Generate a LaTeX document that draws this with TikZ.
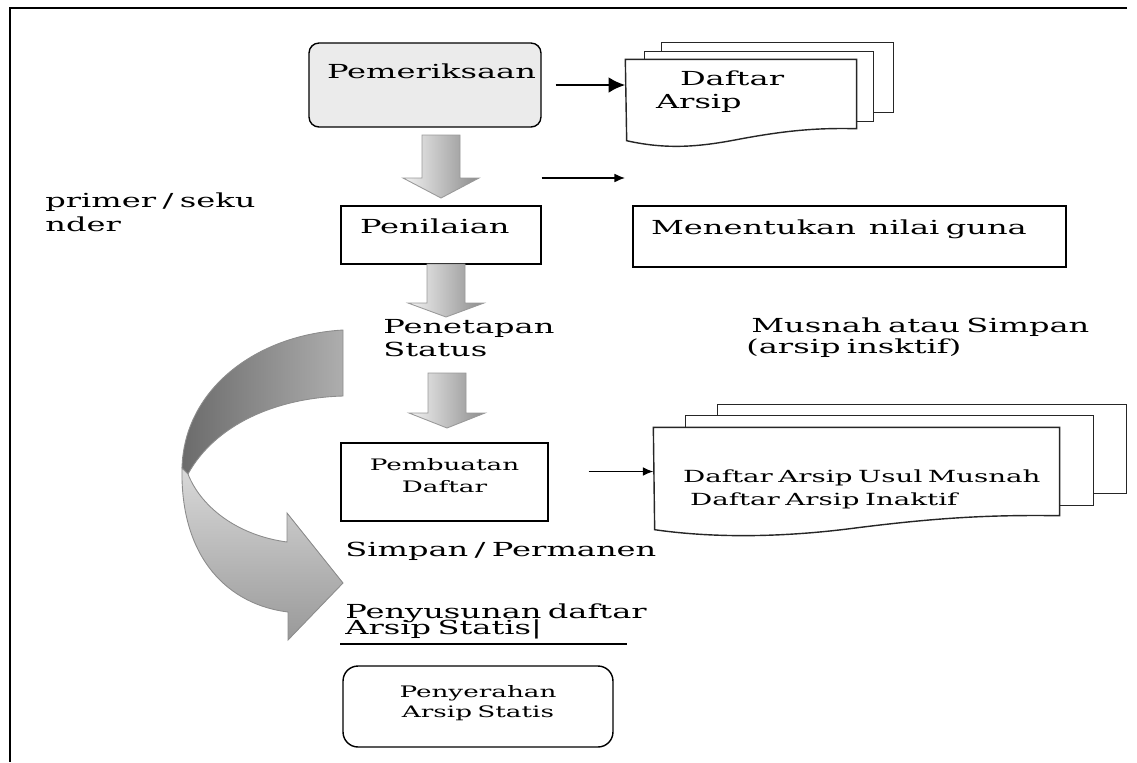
\documentclass[tikz,border=0pt]{standalone}
\usepackage{fontspec}
\setmainfont{DejaVu Serif}[FakeStretch=1.66]
\usetikzlibrary{arrows.meta,calc,backgrounds}

\begin{document}
\begin{tikzpicture}[x=0.02cm, y=-0.02cm, >={Latex[length=6pt,width=5pt]}, font=\fontsize{11}{13.6}\selectfont,
  procbox/.style={draw, line width=0.8pt, inner sep=0pt, align=left},
  roundbox/.style={procbox, rounded corners=0.2cm},
  docsheet/.style={draw=black!85, line width=0.8pt, fill=white},
  blockarrow/.style={left color=black!5, right color=black!45, draw=black!40, line width=0.5pt},
  plaintext/.style={inner sep=0pt, anchor=base west, align=left, text width=8cm},
  smalltext/.style={font=\fontsize{9}{13}\selectfont}]
\useasboundingbox (0,0) rectangle (1137,762);
\draw[line width=1.4pt] (1127,8) -- (10,8) -- (10,762);

% boxes
\node[roundbox, fill=black!8, text width=3.92cm, inner xsep=0.36cm, text height=0.70cm, text depth=0.98cm] (pem) at (425,85) {Pemeriksaan};
\node[procbox, text width=3.24cm, inner xsep=0.38cm, text height=0.54cm, text depth=0.62cm] (pen) at (441,235) {Penilaian};
\node[procbox, text width=7.94cm, inner xsep=0.36cm, text height=0.56cm, text depth=0.66cm] (nilai) at (849.5,236.5) {Menentukan~ nilai guna};
\node[procbox, draw=none, text width=3.4cm, inner xsep=0.6cm, text height=0.5cm, text depth=0.86cm] (daf) at (741,94) {\hspace*{0.48cm}Daftar\\Arsip};
\node[procbox, draw=none, font=\fontsize{9.5}{13.6}\selectfont, text width=7.7cm, inner xsep=0.2cm, text height=1.08cm, text depth=0.66cm] (usul) at (856.5,471.5) {\hspace*{0.38cm}Daftar Arsip Usul Musnah\\\hspace*{0.52cm}Daftar Arsip Inaktif};
\node[procbox, smalltext, align=center, text width=3.94cm, inner xsep=0.1cm, text height=0.54cm, text depth=1.02cm] (pemb) at (444.5,482) {Pembuatan\\Daftar};
\node[roundbox, rounded corners=0.3cm, font=\fontsize{9}{11.9}\selectfont, align=center, text width=5.2cm, inner xsep=0.1cm, text height=0.62cm, text depth=1.0cm] (pser) at (478,706.5) {Penyerahan\\Arsip Statis};

% loose texts
\node[plaintext, font=\fontsize{11}{14.2}\selectfont] (prim) at (45,207) {primer / seku\\nder};
\node[plaintext] (pst) at (383,333) {Penetapan\\Status};
\node[plaintext, font=\fontsize{11}{12.5}\selectfont] (mus) at (751,332) {Musnah atau Simpan\\\hspace*{-0.1cm}(arsip insktif)};
\node[plaintext] (simp) at (345,556) {Simpan / Permanen};
\node[plaintext, font={\fontsize{11}{9.6}\selectfont\lineskiplimit=-\maxdimen}] (pys) at (345,618) {Penyusunan daftar\\Arsip Statis|};
\draw[line width=0.8pt] (340,644) -- (627,644);

% document stacks
\begin{scope}[on background layer]
  \draw[docsheet] ($(daf.north west)+(36,-17)$) rectangle ($(daf.south east)+(37,-16)$);
  \draw[docsheet] ($(daf.north west)+(19,-8)$) rectangle ($(daf.south east)+(17,-7)$);
  \draw[docsheet] (daf.north west) -- (daf.north east) -- (daf.south east) .. controls +(-41,-1) and +(44,-8) .. ++(-115,10) .. controls +(-36,7) and +(44,10) .. ++(-115,2) -- cycle;
  \draw[docsheet] ($(usul.north west)+(64,-23)$) rectangle ($(usul.south east)+(67,-22)$);
  \draw[docsheet] ($(usul.north west)+(32,-12)$) rectangle ($(usul.south east)+(34,-10)$);
  \draw[docsheet] (usul.north west) -- (usul.north east) -- (usul.south east) .. controls +(-70,-1) and +(80,-10) .. ++(-202,12) .. controls +(-60,8) and +(70,10) .. ++(-203,2) -- cycle;
\end{scope}

% block arrows
\foreach \cx/\ytop/\yneck/\ytip in {441/135/178/198, 446/264/303/317, 447/373/413/428}
  \path[blockarrow] (\cx-19,\ytop) -- (\cx+19,\ytop) -- (\cx+19,\yneck) -- (\cx+38,\yneck) -- (\cx,\ytip) -- (\cx-38,\yneck) -- (\cx-19,\yneck) -- cycle;

% curved arrow
\path[left color=black!58, right color=black!32, draw=black!45, line width=0.5pt] (343,330) .. controls (255,335) and (184,390) .. (182,468) -- (188,474) .. controls (215,425) and (275,398) .. (343,396) -- cycle;
\path[top color=black!15, bottom color=black!40, draw=black!45, line width=0.5pt] (182,468) .. controls (180,560) and (230,605) .. (288,612) -- (288,640) -- (343,583) -- (287,513) -- (287,542) .. controls (235,535) and (200,505) .. (188,474) -- cycle;

% arrows
\draw[-{Latex[length=9.5pt,width=9pt]}, line width=1.5pt, shorten <=0.28cm] (pem.east) -- (pem.east -| daf.west);
\coordinate (gap) at (625,178);
\draw[->, line width=0.7pt] (pem.east |- gap) -- (gap);
\draw[->, line width=0.7pt, shorten <=0.8cm] (pemb.east |- usul.west) -- (usul.west);

\end{tikzpicture}
\end{document}
